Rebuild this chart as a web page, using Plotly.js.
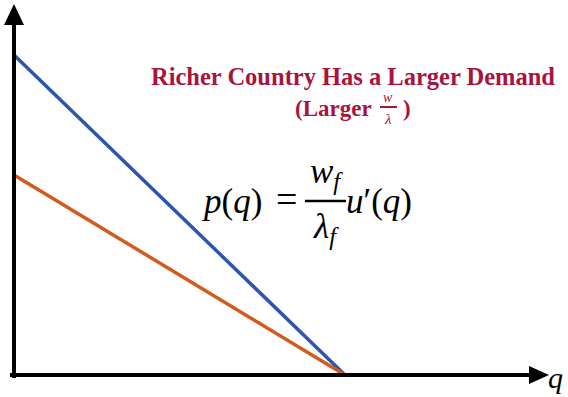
<!DOCTYPE html>
<html><head><meta charset="utf-8">
<script src="https://cdn.plot.ly/plotly-3.0.1.min.js"></script>
<style>html,body{margin:0;padding:0;background:#fff;}#chart{width:568px;height:397px;}</style>
</head><body><div id="chart"></div>
<script>
// Data
const quantity = [0, 1];
const priceRich = [1.6, 0];   // richer country (larger w/λ)
const pricePoor = [1.0, 0];   // poorer country
const seriesNames = ['Richer country', 'Poorer country'];

const W = 568, H = 397;
const px = x => x / W;
const py = y => 1 - y / H;
const fam = 'Liberation Serif, Liberation Sans, serif';
const crimson = '#A8143C';

const traces = [
  {x: quantity, y: priceRich, mode: 'lines', name: seriesNames[0],
   line: {color: '#2B55B0', width: 3.5}},
  {x: quantity, y: pricePoor, mode: 'lines', name: seriesNames[1],
   line: {color: '#D35A1C', width: 3.5}}
];

function ann(text, x, y, opts) {
  return Object.assign({text: text, x: px(x), y: py(y), xref: 'paper', yref: 'paper',
    showarrow: false, xanchor: 'center', yanchor: 'middle', borderpad: 0,
    font: {family: fam, size: 35, color: '#000'}}, opts || {});
}

const annotations = [
  ann('<b>Richer Country Has a Larger Demand</b>', 353, 77, {font: {family: fam, size: 24.5, color: crimson}}),
  ann('<b>(Larger</b>', 373, 108, {xanchor: 'right', font: {family: fam, size: 23, color: crimson}}),
  ann('<i>w</i>', 388, 98, {font: {family: fam, size: 14, color: crimson}}),
  ann('<i>λ</i>', 388, 119, {font: {family: fam, size: 15, color: crimson}}),
  ann('<b>)</b>', 402, 108, {xanchor: 'left', font: {family: fam, size: 23, color: crimson}}),
  ann('<i>p</i>(<i>q</i>)', 263, 201, {xanchor: 'right'}),
  ann('=', 286, 199, {font: {family: fam, size: 38, color: '#000'}}),
  ann('<i>w<sub>f</sub></i>', 326, 173),
  ann('<i>λ<sub>f</sub></i>', 326, 229),
  ann('<i>u</i>′(<i>q</i>)', 345, 201, {xanchor: 'left'}),
  ann('<i>q</i>', 555, 377, {font: {family: fam, size: 30, color: '#000'}})
];

const shapes = [
  {type: 'line', xref: 'paper', yref: 'paper', x0: px(14), x1: px(14), y0: py(378), y1: py(20),
   line: {color: '#000', width: 4}},
  {type: 'path', xref: 'paper', yref: 'paper',
   path: `M ${px(4)} ${py(25)} L ${px(24)} ${py(25)} L ${px(14)} ${py(4)} Z`,
   fillcolor: '#000', line: {color: '#000', width: 0}},
  {type: 'line', xref: 'paper', yref: 'paper', x0: px(10), x1: px(535), y0: py(375), y1: py(375),
   line: {color: '#000', width: 4}},
  {type: 'path', xref: 'paper', yref: 'paper',
   path: `M ${px(529)} ${py(366)} L ${px(529)} ${py(384)} L ${px(549)} ${py(375)} Z`,
   fillcolor: '#000', line: {color: '#000', width: 0}},
  {type: 'line', xref: 'paper', yref: 'paper', x0: px(305), x1: px(346), y0: py(201), y1: py(201),
   line: {color: '#000', width: 2.5}},
  {type: 'line', xref: 'paper', yref: 'paper', x0: px(380), x1: px(397), y0: py(107), y1: py(107),
   line: {color: crimson, width: 2}}
];

const layout = {
  width: W, height: H,
  margin: {l: 0, r: 0, t: 0, b: 0},
  paper_bgcolor: '#fff', plot_bgcolor: '#fff',
  showlegend: false,
  xaxis: {range: [-14/331, 554/331], visible: false, fixedrange: true},
  yaxis: {range: [-22/200, 375/200], visible: false, fixedrange: true},
  annotations: annotations,
  shapes: shapes
};

Plotly.newPlot('chart', traces, layout, {displayModeBar: false, staticPlot: true});
</script></body></html>
